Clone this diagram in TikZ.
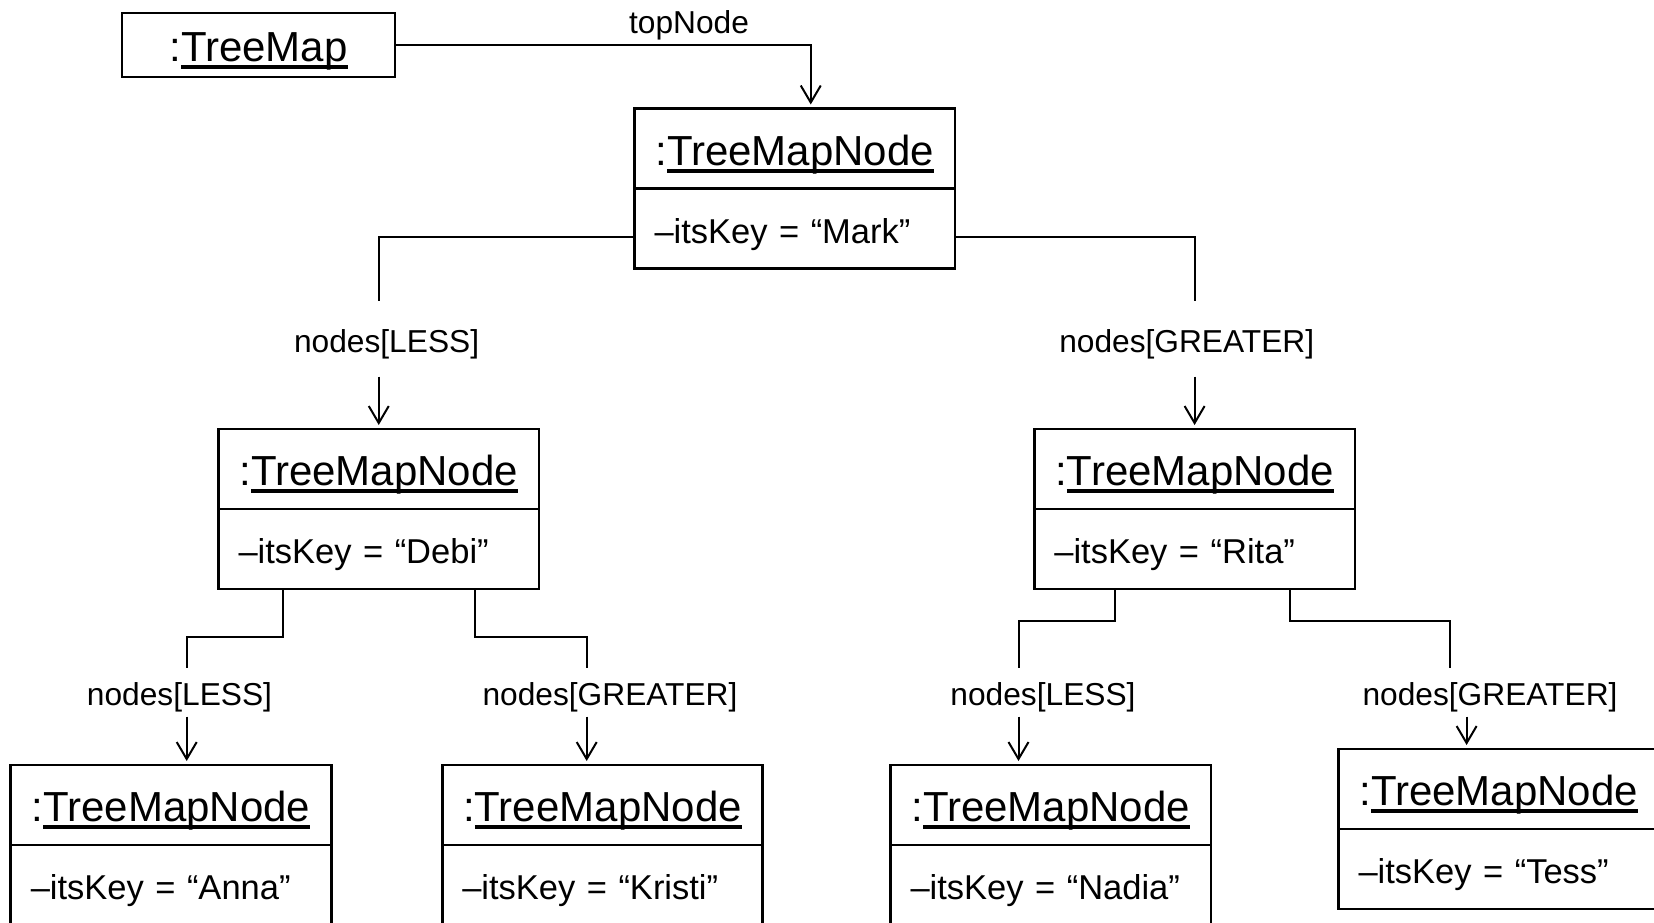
\documentclass[tikz,border=0pt]{standalone}
\usepackage{fontspec}
\setmainfont{Liberation Sans}
\usetikzlibrary{arrows.meta}
% underlined object name with a heavy rule below the baseline
\newcommand{\objul}[1]{\setbox0=\hbox{#1}\rlap{\rule[-7.5pt]{\wd0}{4pt}}\box0}
\begin{document}
\begin{tikzpicture}[x=1pt,y=-1pt,
  title/.style={draw, line width=2.7pt, minimum width=320.5pt, minimum height=80pt,
    inner sep=0pt, outer sep=0pt, text height=33pt, text depth=0pt,
    font=\fontsize{42}{48}\selectfont},
  attr/.style={draw, line width=2.7pt, minimum width=320.5pt, minimum height=80pt,
    inner xsep=20pt, inner ysep=0pt, outer sep=0pt, text width=280.5pt, align=left,
    text height=29pt, text depth=0pt, font=\fontsize{34.5}{40}\selectfont},
  lbl/.style={inner sep=0pt, text height=22.7pt, text depth=6.7pt,
    font=\fontsize{31.7}{36}\selectfont},
  conn/.style={line width=2pt},
  arr/.style={line width=2pt, -{Straight Barb[length=17pt,width=20pt]}, shorten >=4pt}]

\fill[white] (0,0) rectangle (1654,923);
\useasboundingbox (0,0) rectangle (1654,923);
\clip (0,0) rectangle (1654,923);

% map object
\node[title, minimum width=273pt, minimum height=64pt] (treemap) at (258.5,45) {:\objul{TreeMap}};

% tree nodes: name part and attribute part
\node[title] (markT) at (794.75,148.5) {:\objul{TreeMapNode}};
\node[attr, anchor=north] (markA) at (markT.south) {–itsKey = “Mark”};

\node[title] (debiT) at (378.75,469) {:\objul{TreeMapNode}};
\node[attr, anchor=north] (debiA) at (debiT.south) {–itsKey = “Debi”};

\node[title] (ritaT) at (1194.6,469) {:\objul{TreeMapNode}};
\node[attr, anchor=north] (ritaA) at (ritaT.south) {–itsKey = “Rita”};

\node[title] (annaT) at (171,805) {:\objul{TreeMapNode}};
\node[attr, anchor=north] (annaA) at (annaT.south) {–itsKey = “Anna”};

\node[title] (kristiT) at (602.5,805) {:\objul{TreeMapNode}};
\node[attr, anchor=north] (kristiA) at (kristiT.south) {–itsKey = “Kristi”};

\node[title] (nadiaT) at (1050.75,805) {:\objul{TreeMapNode}};
\node[attr, anchor=north] (nadiaA) at (nadiaT.south) {–itsKey = “Nadia”};

\node[title] (tessT) at (1498.75,789) {:\objul{TreeMapNode}};
\node[attr, anchor=north] (tessA) at (tessT.south) {–itsKey = “Tess”};

% role labels
\node[lbl] (ltop) at (689,26) {topNode};
\node[lbl] (l1) at (386.6,344.5) {nodes[LESS]};
\node[lbl] (l2) at (1186.7,344.5) {nodes[GREATER]};
\node[lbl] (l3) at (179.5,697) {nodes[LESS]};
\node[lbl] (l4) at (610,697) {nodes[GREATER]};
\node[lbl] (l5) at (1043,697) {nodes[LESS]};
\node[lbl] (l6) at (1490,697) {nodes[GREATER]};

% link ends around the labels
\coordinate (e1) at (378.75,300.6);  \coordinate (s1) at (378.75,376.6);
\coordinate (e2) at (1194.6,300.6);  \coordinate (s2) at (1194.6,376.6);
\coordinate (b3) at (186.7,636.7);   \coordinate (e3) at (186.7,668);   \coordinate (s3) at (186.7,716.7);
\coordinate (b4) at (586.7,636.7);   \coordinate (e4) at (586.7,668);   \coordinate (s4) at (586.7,716.7);
\coordinate (b5) at (1018.5,620.7);  \coordinate (e5) at (1018.5,668);  \coordinate (s5) at (1018.5,716.7);
\coordinate (b6) at (1450.4,620.7);  \coordinate (e6) at (1450.4,668);  \coordinate (s6) at (1466.6,716.7);

% links
\draw[arr] (treemap.east) -| ([xshift=16pt]markT.north);

\draw[conn] ([yshift=-8pt]markA.west) -| (e1);
\draw[arr] (s1) -- (debiT.north);
\draw[conn] ([yshift=-8pt]markA.east) -| (e2);
\draw[arr] (s2) -- (ritaT.north);

\draw[conn] ([xshift=-95.75pt]debiA.south) |- (b3) -- (e3);
\draw[arr] (s3) -- (s3 |- annaT.north);
\draw[conn] ([xshift=95.75pt]debiA.south) |- (b4) -- (e4);
\draw[arr] (s4) -- (s4 |- kristiT.north);

\draw[conn] ([xshift=-79.9pt]ritaA.south) |- (b5) -- (e5);
\draw[arr] (s5) -- (s5 |- nadiaT.north);
\draw[conn] ([xshift=95.8pt]ritaA.south) |- (b6) -- (e6);
\draw[arr] (s6) -- (s6 |- tessT.north);
\end{tikzpicture}
\end{document}
